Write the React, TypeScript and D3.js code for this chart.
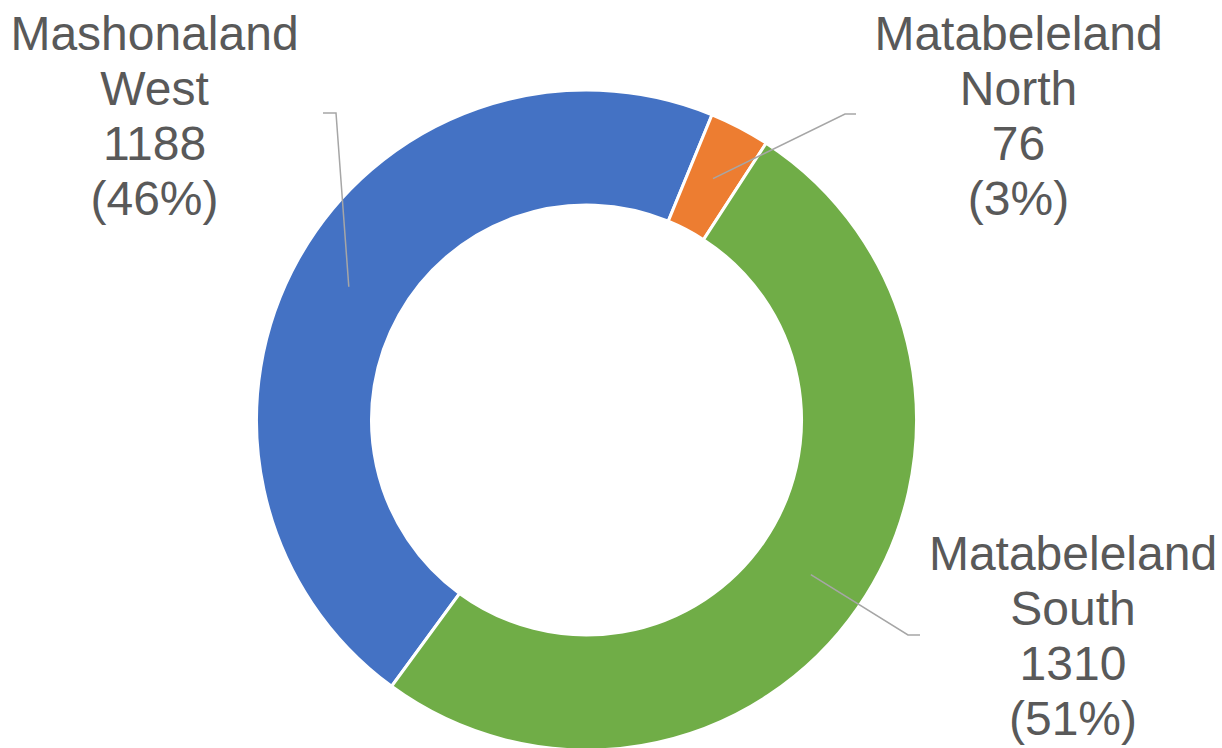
import React from "react";
import * as d3 from "d3";

const categories = ["Mashonaland West", "Matabeleland North", "Matabeleland South"];
const nameLines = [["Mashonaland", "West"], ["Matabeleland", "North"], ["Matabeleland", "South"]];
const values = [1188, 76, 1310];
const colors = ["#4472C4", "#ED7D31", "#70AD47"];

// layout: label block centre x, first baseline y, leader elbow and end points
const labelLayout = [
  { x: 154.5, y: 49.5, elbow: [336, 113], end: [323, 113] },
  { x: 1018.5, y: 50, elbow: [845, 114], end: [856, 114] },
  { x: 1073, y: 570, elbow: [908, 635], end: [920, 635] },
];

const W = 1222;
const H = 748;
const cx = 586.5;
const cy = 420;
const outerR = 330;
const innerR = 215;
const startDeg = 216.2;
const lineH = 55;

export default function App() {
  const total = d3.sum(values);
  const start = (startDeg * Math.PI) / 180;
  const pie = d3
    .pie<number>()
    .sort(null)
    .startAngle(start)
    .endAngle(start + 2 * Math.PI)
    .value((d) => d);
  const arcs = pie(values);
  const arc = d3.arc<d3.PieArcDatum<number>>().innerRadius(innerR).outerRadius(outerR);
  const fmtPct = (v: number) => `(${Math.round((v / total) * 100)}%)`;

  return (
    <svg
      width={W}
      height={H}
      style={{ position: "absolute", left: 0, top: 0, background: "#fff" }}
      fontFamily="'Liberation Sans', Arial, sans-serif"
    >
      <g transform={`translate(${cx},${cy})`}>
        {arcs.map((a, i) => (
          <path key={categories[i]} d={arc(a) || ""} fill={colors[i]} stroke="#fff" strokeWidth={3} />
        ))}
      </g>
      {arcs.map((a, i) => {
        const c = arc.centroid(a);
        const L = labelLayout[i];
        const pts = `${cx + c[0]},${cy + c[1]} ${L.elbow[0]},${L.elbow[1]} ${L.end[0]},${L.end[1]}`;
        return (
          <polyline key={"l" + i} points={pts} fill="none" stroke="#A6A6A6" strokeWidth={1.5} />
        );
      })}
      {arcs.map((a, i) => {
        const L = labelLayout[i];
        const lines = [...nameLines[i], String(values[i]), fmtPct(values[i])];
        return (
          <text key={"t" + i} x={L.x} y={L.y} textAnchor="middle" fontSize={48} fill="#595959">
            {lines.map((s, j) => (
              <tspan key={j} x={L.x} y={L.y + j * lineH}>
                {s}
              </tspan>
            ))}
          </text>
        );
      })}
    </svg>
  );
}
